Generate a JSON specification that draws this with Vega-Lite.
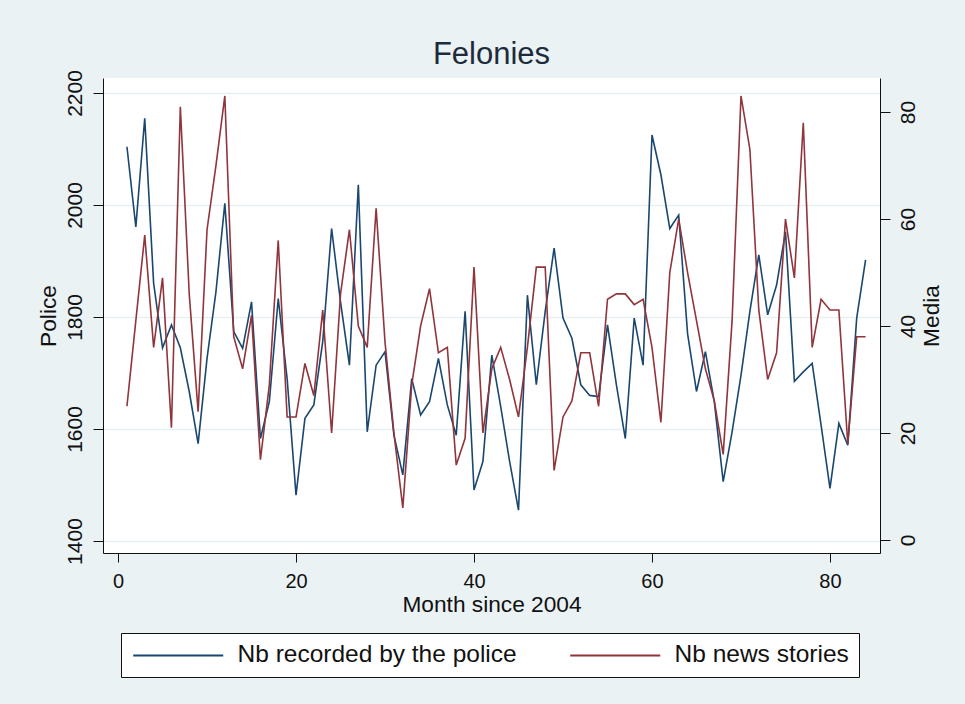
{
  "$schema": "https://vega.github.io/schema/vega-lite/v6.json",
  "width": 777,
  "height": 475,
  "autosize": {"type": "none"},
  "padding": {"left": 103, "top": 78, "right": 85, "bottom": 151},
  "background": "#EAF2F3",
  "config": {
    "view": {"stroke": null, "fill": "white"},
    "font": "Liberation Sans",
    "axis": {"domainColor": "#111111", "tickColor": "#111111", "labelColor": "#111111", "titleColor": "#111111", "titleFontWeight": "normal", "labelFont": "Liberation Sans", "titleFont": "Liberation Sans", "format": "d"}
  },
  "title": {"text": "Felonies", "fontSize": 31, "font": "Liberation Sans", "fontWeight": "normal", "color": "#1E2B3C", "anchor": "middle", "frame": "group", "baseline": "alphabetic", "offset": -25},
  "data": {"values": [
    {"month":1,"police":2104,"media":25},{"month":2,"police":1961,"media":41},{"month":3,"police":2155,"media":57},{"month":4,"police":1860,"media":36},{"month":5,"police":1745,"media":49},{"month":6,"police":1786,"media":21},{"month":7,"police":1745,"media":81},{"month":8,"police":1667,"media":46},{"month":9,"police":1574,"media":24},{"month":10,"police":1726,"media":58},
    {"month":11,"police":1845,"media":70},{"month":12,"police":2003,"media":83},{"month":13,"police":1774,"media":38},{"month":14,"police":1744,"media":32},{"month":15,"police":1827,"media":42},{"month":16,"police":1583,"media":15},{"month":17,"police":1649,"media":29},{"month":18,"police":1833,"media":56},{"month":19,"police":1690,"media":23},{"month":20,"police":1482,"media":23},
    {"month":21,"police":1619,"media":33},{"month":22,"police":1643,"media":27},{"month":23,"police":1756,"media":43},{"month":24,"police":1958,"media":20},{"month":25,"police":1827,"media":46},{"month":26,"police":1714,"media":58},{"month":27,"police":2036,"media":40},{"month":28,"police":1595,"media":36},{"month":29,"police":1714,"media":62},{"month":30,"police":1738,"media":37},
    {"month":31,"police":1589,"media":20},{"month":32,"police":1518,"media":6},{"month":33,"police":1690,"media":29},{"month":34,"police":1625,"media":40},{"month":35,"police":1649,"media":47},{"month":36,"police":1726,"media":35},{"month":37,"police":1643,"media":36},{"month":38,"police":1589,"media":14},{"month":39,"police":1810,"media":19},{"month":40,"police":1491,"media":51},
    {"month":41,"police":1542,"media":20},{"month":42,"police":1732,"media":32},{"month":43,"police":1640,"media":36},{"month":44,"police":1542,"media":30},{"month":45,"police":1455,"media":23},{"month":46,"police":1839,"media":36},{"month":47,"police":1679,"media":51},{"month":48,"police":1810,"media":51},{"month":49,"police":1923,"media":13},{"month":50,"police":1798,"media":23},
    {"month":51,"police":1762,"media":26},{"month":52,"police":1679,"media":35},{"month":53,"police":1660,"media":35},{"month":54,"police":1658,"media":25},{"month":55,"police":1786,"media":45},{"month":56,"police":1679,"media":46},{"month":57,"police":1583,"media":46},{"month":58,"police":1798,"media":44},{"month":59,"police":1714,"media":45},{"month":60,"police":2125,"media":36},
    {"month":61,"police":2054,"media":22},{"month":62,"police":1958,"media":50},{"month":63,"police":1982,"media":60},{"month":64,"police":1770,"media":50},{"month":65,"police":1667,"media":41},{"month":66,"police":1738,"media":32},{"month":67,"police":1649,"media":26},{"month":68,"police":1506,"media":16},{"month":69,"police":1595,"media":41},{"month":70,"police":1696,"media":83},
    {"month":71,"police":1810,"media":73},{"month":72,"police":1911,"media":43},{"month":73,"police":1804,"media":30},{"month":74,"police":1857,"media":35},{"month":75,"police":1952,"media":60},{"month":76,"police":1685,"media":49},{"month":77,"police":1702,"media":78},{"month":78,"police":1717,"media":36},{"month":79,"police":1607,"media":45},{"month":80,"police":1494,"media":43},
    {"month":81,"police":1610,"media":43},{"month":82,"police":1571,"media":18},{"month":83,"police":1798,"media":38},{"month":84,"police":1902,"media":38}
  ]},
  "layer": [
    {
      "mark": {"type": "line", "strokeWidth": 1.6},
      "encoding": {
        "x": {"field": "month", "type": "quantitative", "scale": {"domain": [-1.69, 85.62], "nice": false, "zero": false},
              "axis": {"values": [0, 20, 40, 60, 80], "title": "Month since 2004", "grid": false, "tickSize": 9, "labelFontSize": 20, "titleFontSize": 22.7, "labelPadding": 9, "titlePadding": 2, "labelFlush": false}},
        "y": {"field": "police", "type": "quantitative", "scale": {"domain": [1378.6, 2226.8], "nice": false, "zero": false},
              "axis": {"values": [1400, 1600, 1800, 2000, 2200], "title": "Police", "grid": true, "gridColor": "#E6EFF1", "gridWidth": 1.5, "tickSize": 10, "labelFontSize": 21, "labelAngle": -90, "labelAlign": "center", "labelBaseline": "bottom", "labelPadding": 8, "titleFontSize": 22.7, "titlePadding": 4}},
        "color": {"datum": "Nb recorded by the police", "type": "nominal",
                  "scale": {"domain": ["Nb recorded by the police", "Nb news stories"], "range": ["#1A476F", "#90353B"]},
                  "legend": {"title": null, "orient": "none", "legendX": 18, "legendY": 555, "direction": "horizontal", "fillColor": "white", "strokeColor": "#111111", "padding": 10, "symbolType": "M-2,0H16", "symbolSize": 100, "symbolStrokeWidth": 2, "labelOffset": 82, "labelFontSize": 24.5, "labelFont": "Liberation Sans", "labelColor": "#111111", "columnPadding": 49, "labelLimit": 400}}
      }
    },
    {
      "mark": {"type": "line", "strokeWidth": 1.6},
      "encoding": {
        "x": {"field": "month", "type": "quantitative"},
        "y": {"field": "media", "type": "quantitative", "scale": {"domain": [-2.43, 86.36], "nice": false, "zero": false},
              "axis": {"orient": "right", "values": [0, 20, 40, 60, 80], "title": "Media", "grid": false, "tickSize": 10, "labelFontSize": 21, "labelAngle": -90, "labelAlign": "center", "labelBaseline": "top", "labelPadding": 7, "titleFontSize": 22.7, "titleAngle": 270, "titleBaseline": "top", "titlePadding": 2}},
        "color": {"datum": "Nb news stories", "type": "nominal"}
      }
    }
  ],
  "resolve": {"scale": {"y": "independent"}}
}
